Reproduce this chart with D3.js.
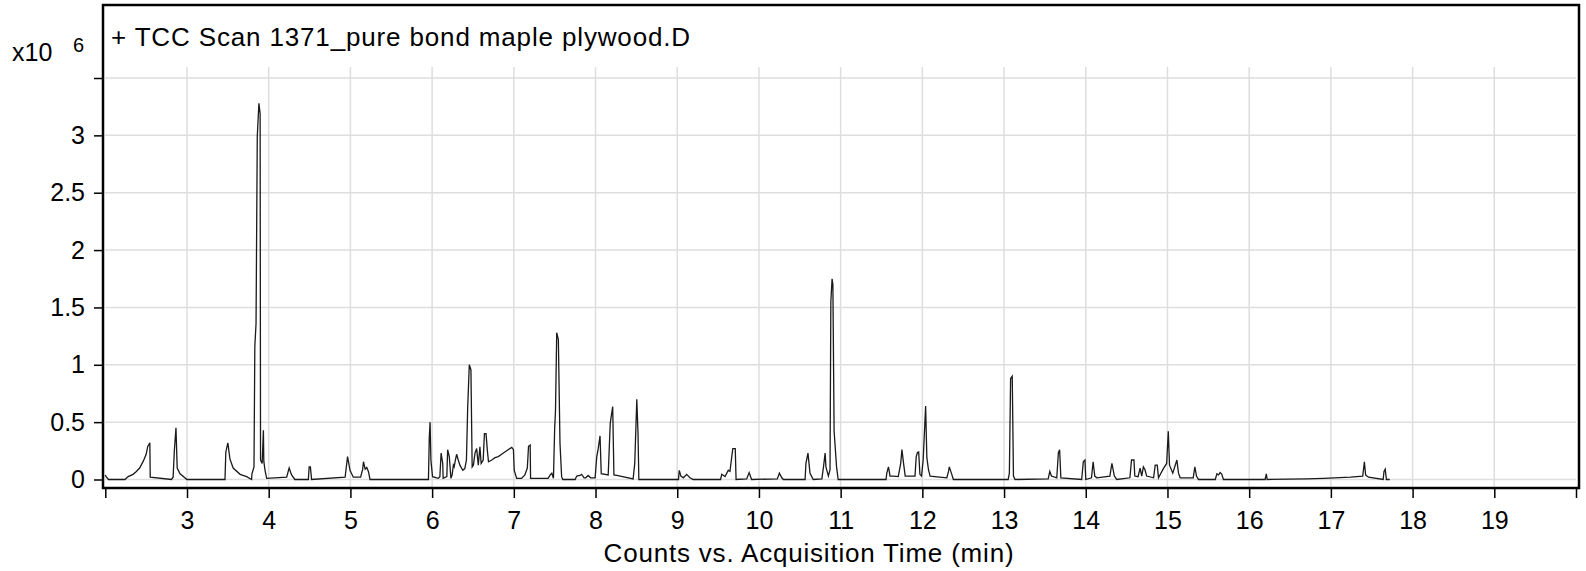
<!DOCTYPE html>
<html>
<head>
<meta charset="utf-8">
<script src="https://cdn.jsdelivr.net/npm/d3@7"></script>
<style>
  html, body { margin: 0; padding: 0; background: #fff; }
  svg { display: block; }
  text { font-family: "Liberation Sans", Arial, sans-serif; fill: #000; }
</style>
</head>
<body>
<svg id="chart" width="1586" height="571"></svg>
<script>
// ---- Data ----
const chartTitle = "+ TCC Scan 1371_pure bond maple plywood.D";
const xAxisTitle = "Counts vs. Acquisition Time (min)";
const yExponentBase = "x10";
const yExponent = "6";

// Retention time (min)
const retentionTime = [
  2.00, 2.01, 2.04, 2.24, 2.28, 2.34, 2.38, 2.42, 2.465, 2.50, 2.52, 2.53, 2.545, 2.55,
  2.81, 2.83, 2.845, 2.865, 2.88, 2.915, 3.00,
  3.465, 3.475, 3.50, 3.525, 3.565, 3.65, 3.73, 3.79,
  3.795, 3.82, 3.83, 3.845, 3.86, 3.88, 3.895, 3.90, 3.92, 3.935, 3.94, 3.955, 3.975,
  4.22, 4.25, 4.28, 4.32, 4.485, 4.495, 4.51, 4.525,
  4.935, 4.95, 4.965, 4.995, 5.035, 5.125, 5.15, 5.16, 5.18, 5.20, 5.22, 5.24,
  5.955, 5.965, 5.975, 5.985, 6.005, 6.075, 6.095, 6.11, 6.13, 6.135,
  6.18, 6.19, 6.21, 6.23, 6.245, 6.26, 6.27, 6.285, 6.30, 6.32, 6.34, 6.375, 6.40, 6.42,
  6.435, 6.455, 6.475, 6.49, 6.505, 6.525, 6.545, 6.565, 6.585, 6.60, 6.625, 6.64, 6.66,
  6.675, 6.69, 6.73, 6.77, 6.81, 6.85, 6.89, 6.93, 6.975, 6.995, 7.005, 7.035, 7.095,
  7.135, 7.165, 7.18, 7.20, 7.205, 7.42, 7.445, 7.465, 7.485,
  7.50, 7.51, 7.525, 7.545, 7.565, 7.585, 7.60,
  7.75, 7.77, 7.81, 7.83, 7.86, 7.88, 7.91, 7.94, 7.995, 8.015, 8.03, 8.055, 8.07,
  8.155, 8.18, 8.21, 8.225, 8.26, 8.46, 8.48, 8.505, 8.52, 8.53,
  9.015, 9.025, 9.045, 9.075, 9.115, 9.155, 9.195,
  9.53, 9.545, 9.585, 9.625, 9.645, 9.68, 9.71, 9.72, 9.85, 9.88, 9.91,
  10.225, 10.25, 10.28, 10.30, 10.565, 10.575, 10.60, 10.625, 10.665,
  10.77, 10.79, 10.81, 10.82, 10.85, 10.87, 10.88, 10.895, 10.905, 10.92, 10.95, 10.97,
  11.555, 11.565, 11.585, 11.605, 11.645, 11.705, 11.735, 11.75, 11.77, 11.79,
  11.91, 11.925, 11.94, 11.955, 11.97, 11.99, 12.01, 12.04, 12.055, 12.075, 12.095,
  12.30, 12.32, 12.33, 12.36, 12.38,
  13.05, 13.065, 13.08, 13.10, 13.115, 13.135,
  13.54, 13.56, 13.58, 13.645, 13.665, 13.68, 13.695,
  13.95, 13.97, 13.99, 14.00, 14.07, 14.09, 14.11, 14.135,
  14.295, 14.32, 14.35, 14.38, 14.54, 14.56, 14.59, 14.60, 14.64, 14.665, 14.685, 14.705,
  14.725, 14.745, 14.83, 14.85, 14.875, 14.89, 14.95, 14.99, 15.01, 15.025, 15.065,
  15.115, 15.135, 15.155, 15.315, 15.335, 15.355, 15.38,
  15.585, 15.605, 15.625, 15.645, 15.665, 15.685, 16.195, 16.21, 16.22,
  16.705, 16.91, 17.24, 17.39, 17.41, 17.425, 17.46, 17.64, 17.65, 17.665, 17.68, 17.72
];

// Counts (x10^6)
const countsE6 = [
  0.04, 0.025, 0.0, 0.0, 0.025, 0.045, 0.07, 0.10, 0.16, 0.22, 0.29, 0.30, 0.32, 0.02,
  0.0, 0.02, 0.25, 0.45, 0.10, 0.05, 0.0,
  0.0, 0.24, 0.32, 0.18, 0.10, 0.045, 0.025, 0.0,
  0.05, 0.11, 1.16, 1.36, 2.99, 3.28, 3.19, 0.17, 0.14, 0.43, 0.16, 0.08, 0.01,
  0.02, 0.10, 0.04, 0.0, 0.0, 0.11, 0.11, 0.0,
  0.02, 0.11, 0.20, 0.08, 0.02, 0.02, 0.09, 0.155, 0.09, 0.105, 0.07, 0.0,
  0.0, 0.36, 0.50, 0.17, 0.025, 0.01, 0.025, 0.23, 0.14, 0.01,
  0.025, 0.26, 0.20, 0.01, 0.04, 0.125, 0.11, 0.17, 0.22, 0.17, 0.125, 0.08, 0.095, 0.17,
  0.62, 1.00, 0.955, 0.11, 0.125, 0.23, 0.27, 0.125, 0.285, 0.14, 0.17, 0.40, 0.40,
  0.26, 0.155, 0.17, 0.19, 0.20, 0.22, 0.24, 0.26, 0.28, 0.26, 0.08, 0.01, 0.01,
  0.04, 0.10, 0.29, 0.30, 0.01, 0.01, 0.04, 0.055, 0.01,
  0.45, 0.60, 1.28, 1.22, 0.315, 0.025, 0.0,
  0.0, 0.03, 0.035, 0.045, 0.015, 0.015, 0.035, 0.015, 0.015, 0.20, 0.255, 0.38, 0.05,
  0.04, 0.49, 0.635, 0.04, 0.035, 0.005, 0.14, 0.70, 0.40, 0.0,
  0.0, 0.08, 0.03, 0.015, 0.045, 0.015, 0.0,
  0.0, 0.045, 0.025, 0.08, 0.07, 0.27, 0.27, 0.0, 0.005, 0.06, 0.0,
  0.005, 0.055, 0.015, 0.0, 0.0, 0.14, 0.23, 0.055, 0.0,
  0.005, 0.11, 0.23, 0.11, 0.03, 0.085, 1.55, 1.75, 1.70, 0.42, 0.11, 0.0,
  0.0, 0.055, 0.11, 0.03, 0.03, 0.025, 0.14, 0.26, 0.14, 0.03,
  0.03, 0.20, 0.235, 0.24, 0.045, 0.03, 0.17, 0.64, 0.19, 0.085, 0.03,
  0.015, 0.07, 0.11, 0.045, 0.0,
  0.0, 0.055, 0.88, 0.90, 0.03, 0.0,
  0.005, 0.07, 0.03, 0.015, 0.235, 0.26, 0.015,
  0.0, 0.155, 0.17, 0.0, 0.015, 0.155, 0.03, 0.015,
  0.03, 0.14, 0.03, 0.0, 0.015, 0.17, 0.17, 0.03, 0.025, 0.10, 0.03, 0.11,
  0.085, 0.03, 0.015, 0.125, 0.125, 0.015, 0.095, 0.14, 0.42, 0.125, 0.055,
  0.17, 0.055, 0.015, 0.015, 0.11, 0.03, 0.0,
  0.0, 0.05, 0.04, 0.06, 0.045, 0.0, 0.0, 0.05, 0.0,
  0.005, 0.01, 0.02, 0.03, 0.155, 0.04, 0.02, 0.0, 0.07, 0.09, 0.0, 0.0
];

// Axis ticks
const xTicks = [2, 3, 4, 5, 6, 7, 8, 9, 10, 11, 12, 13, 14, 15, 16, 17, 18, 19, 20];
const xTickLabels = ["", "3", "4", "5", "6", "7", "8", "9", "10", "11", "12", "13", "14", "15", "16", "17", "18", "19", ""];
const yTicks = [0, 0.5, 1, 1.5, 2, 2.5, 3, 3.5];
const yTickLabels = ["0", "0.5", "1", "1.5", "2", "2.5", "3", ""];

// ---- Drawing ----
const svg = d3.select("#chart");

const frame = { left: 103, top: 5, right: 1579, bottom: 488 };
const gridTop = 67;

const x = d3.scaleLinear().domain([2, 20]).range([105.3, 1576]);
const y = d3.scaleLinear().domain([0, 3.5]).range([479.5, 78]);

// Grid
const grid = svg.append("g").attr("stroke", "#dedede").attr("stroke-width", 1.5);
grid.selectAll("line.vx").data(xTicks.slice(1, -1)).enter().append("line")
  .attr("x1", d => x(d)).attr("x2", d => x(d))
  .attr("y1", gridTop).attr("y2", frame.bottom);
grid.selectAll("line.hy").data(yTicks).enter().append("line")
  .attr("x1", frame.left + 2).attr("x2", frame.right - 3)
  .attr("y1", d => y(d)).attr("y2", d => y(d));

// Trace
const pts = retentionTime.map((t, i) => [t, countsE6[i]]);
const line = d3.line().x(d => x(d[0])).y(d => y(d[1]));
svg.append("path")
  .datum(pts)
  .attr("d", line)
  .attr("fill", "none")
  .attr("stroke", "#1a1a1a")
  .attr("stroke-width", 1.3)
  .attr("stroke-linejoin", "miter");

// Frame
svg.append("rect")
  .attr("x", frame.left).attr("y", frame.top)
  .attr("width", frame.right - frame.left).attr("height", frame.bottom - frame.top)
  .attr("fill", "none").attr("stroke", "#000").attr("stroke-width", 2.5);

// X axis ticks + labels
const xAxis = d3.axisBottom(x).tickValues(xTicks)
  .tickSize(10).tickPadding(13)
  .tickFormat((d, i) => xTickLabels[i]);
const gx = svg.append("g").attr("transform", `translate(0,${frame.bottom})`).call(xAxis);
gx.select(".domain").remove();
gx.selectAll(".tick line").attr("stroke", "#000").attr("stroke-width", 1.5);
gx.selectAll(".tick text").attr("font-size", 25).attr("font-family", "Liberation Sans, Arial, sans-serif").attr("fill", "#000");

// Y axis ticks + labels
const yAxis = d3.axisLeft(y).tickValues(yTicks)
  .tickSize(9).tickPadding(9)
  .tickFormat((d, i) => yTickLabels[i]);
const gy = svg.append("g").attr("transform", `translate(${frame.left},0)`).call(yAxis);
gy.select(".domain").remove();
gy.selectAll(".tick line").attr("stroke", "#000").attr("stroke-width", 1.5);
gy.selectAll(".tick text").attr("font-size", 25).attr("font-family", "Liberation Sans, Arial, sans-serif").attr("fill", "#000");

// Title inside frame
svg.append("text").attr("x", 111).attr("y", 46)
  .attr("font-size", 26).style("letter-spacing", "0.85px")
  .text(chartTitle);

// Exponent label
svg.append("text").attr("x", 12).attr("y", 60.5).attr("font-size", 25).text(yExponentBase);
svg.append("text").attr("x", 73).attr("y", 51.5).attr("font-size", 20).text(yExponent);

// X axis title
svg.append("text").attr("x", 809).attr("y", 561.5)
  .attr("text-anchor", "middle").attr("font-size", 26).style("letter-spacing", "0.8px")
  .text(xAxisTitle);
</script>
</body>
</html>
